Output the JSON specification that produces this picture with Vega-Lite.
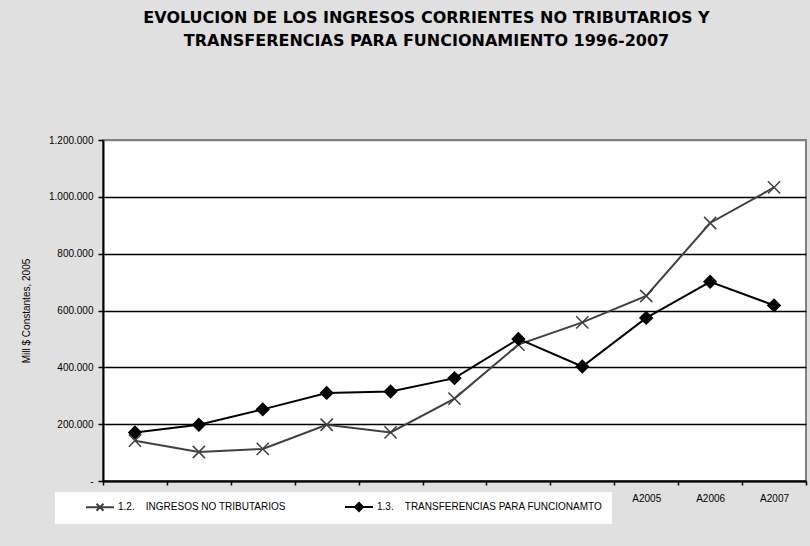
{
  "$schema": "https://vega.github.io/schema/vega-lite/v6.json",
  "width": 703,
  "height": 341,
  "autosize": {"type": "none"},
  "padding": {"left": 103, "top": 140, "right": 4, "bottom": 65},
  "background": "#e0e0e0",
  "title": {
    "text": ["EVOLUCION DE LOS INGRESOS CORRIENTES NO TRIBUTARIOS Y", "TRANSFERENCIAS PARA FUNCIONAMIENTO 1996-2007"],
    "fontSize": 16,
    "fontWeight": "bold",
    "font": "DejaVu Sans",
    "color": "black",
    "lineHeight": 23,
    "anchor": "middle",
    "dx": -28,
    "offset": 86
  },
  "data": {
    "values": [
      {"year": "A1997", "series": "1.2.\u00a0\u00a0\u00a0\u00a0INGRESOS NO TRIBUTARIOS", "value": 142000},
      {"year": "A1998", "series": "1.2.\u00a0\u00a0\u00a0\u00a0INGRESOS NO TRIBUTARIOS", "value": 102000},
      {"year": "A1999", "series": "1.2.\u00a0\u00a0\u00a0\u00a0INGRESOS NO TRIBUTARIOS", "value": 113000},
      {"year": "A2000", "series": "1.2.\u00a0\u00a0\u00a0\u00a0INGRESOS NO TRIBUTARIOS", "value": 198000},
      {"year": "A2001", "series": "1.2.\u00a0\u00a0\u00a0\u00a0INGRESOS NO TRIBUTARIOS", "value": 171000},
      {"year": "A2002", "series": "1.2.\u00a0\u00a0\u00a0\u00a0INGRESOS NO TRIBUTARIOS", "value": 290000},
      {"year": "A2003", "series": "1.2.\u00a0\u00a0\u00a0\u00a0INGRESOS NO TRIBUTARIOS", "value": 480000},
      {"year": "A2004", "series": "1.2.\u00a0\u00a0\u00a0\u00a0INGRESOS NO TRIBUTARIOS", "value": 558000},
      {"year": "A2005", "series": "1.2.\u00a0\u00a0\u00a0\u00a0INGRESOS NO TRIBUTARIOS", "value": 651000},
      {"year": "A2006", "series": "1.2.\u00a0\u00a0\u00a0\u00a0INGRESOS NO TRIBUTARIOS", "value": 908000},
      {"year": "A2007", "series": "1.2.\u00a0\u00a0\u00a0\u00a0INGRESOS NO TRIBUTARIOS", "value": 1033000},
      {"year": "A1997", "series": "1.3.\u00a0\u00a0\u00a0\u00a0TRANSFERENCIAS PARA FUNCIONAMTO", "value": 171000},
      {"year": "A1998", "series": "1.3.\u00a0\u00a0\u00a0\u00a0TRANSFERENCIAS PARA FUNCIONAMTO", "value": 198000},
      {"year": "A1999", "series": "1.3.\u00a0\u00a0\u00a0\u00a0TRANSFERENCIAS PARA FUNCIONAMTO", "value": 252000},
      {"year": "A2000", "series": "1.3.\u00a0\u00a0\u00a0\u00a0TRANSFERENCIAS PARA FUNCIONAMTO", "value": 310000},
      {"year": "A2001", "series": "1.3.\u00a0\u00a0\u00a0\u00a0TRANSFERENCIAS PARA FUNCIONAMTO", "value": 315000},
      {"year": "A2002", "series": "1.3.\u00a0\u00a0\u00a0\u00a0TRANSFERENCIAS PARA FUNCIONAMTO", "value": 362000},
      {"year": "A2003", "series": "1.3.\u00a0\u00a0\u00a0\u00a0TRANSFERENCIAS PARA FUNCIONAMTO", "value": 500000},
      {"year": "A2004", "series": "1.3.\u00a0\u00a0\u00a0\u00a0TRANSFERENCIAS PARA FUNCIONAMTO", "value": 403000},
      {"year": "A2005", "series": "1.3.\u00a0\u00a0\u00a0\u00a0TRANSFERENCIAS PARA FUNCIONAMTO", "value": 574000},
      {"year": "A2006", "series": "1.3.\u00a0\u00a0\u00a0\u00a0TRANSFERENCIAS PARA FUNCIONAMTO", "value": 701000},
      {"year": "A2007", "series": "1.3.\u00a0\u00a0\u00a0\u00a0TRANSFERENCIAS PARA FUNCIONAMTO", "value": 618000}
    ]
  },
  "encoding": {
    "x": {
      "field": "year",
      "type": "ordinal",
      "scale": {"type": "band", "paddingInner": 0, "paddingOuter": 0},
      "axis": {
        "title": null,
        "labelAngle": 0,
        "labelFontSize": 10,
        "labelColor": "black",
        "labelPadding": 8,
        "labelExpr": "indexof(['A2005','A2006','A2007'], datum.value) >= 0 ? datum.label : ''",
        "tickBand": "extent",
        "tickColor": "black",
        "tickSize": 4,
        "tickWidth": 1.5,
        "domainColor": "black",
        "domainWidth": 2,
        "grid": false
      }
    },
    "y": {
      "field": "value",
      "type": "quantitative",
      "scale": {"domain": [0, 1200000], "nice": false},
      "axis": {
        "title": "Mill $ Constantes, 2005",
        "titleFontSize": 10,
        "titleFontWeight": "normal",
        "titleColor": "black",
        "titlePadding": 17,
        "values": [0, 200000, 400000, 600000, 800000, 1000000, 1200000],
        "labelExpr": "datum.value == 0 ? '-' : replace(format(datum.value, ','), regexp(',', 'g'), '.')",
        "labelFontSize": 10,
        "labelColor": "black",
        "labelPadding": 5,
        "tickColor": "black",
        "tickSize": 5,
        "tickWidth": 1.5,
        "domainColor": "black",
        "domainWidth": 2,
        "grid": true,
        "gridColor": {"condition": {"test": "datum.value >= 1200000", "value": "#808080"}, "value": "black"},
        "gridWidth": 1.5
      }
    },
    "color": {
      "field": "series",
      "type": "nominal",
      "scale": {"range": ["#404040", "#000000"]},
      "legend": {
        "title": null,
        "orient": "none",
        "legendX": -48,
        "legendY": 352,
        "direction": "horizontal",
        "fillColor": "white",
        "padding": 9,
        "labelFontSize": 10,
        "labelColor": "black",
        "labelLimit": 400,
        "symbolSize": 100,
        "symbolOffset": 30,
        "labelOffset": 12,
        "columnPadding": 37,
        "symbolStrokeWidth": 2,
        "encode": {
          "symbols": {
            "update": {
              "shape": {"signal": "indexof(datum.value, 'INGRESOS') >= 0 ? 'M-2.8,0L2.8,0M-0.7,-0.7L0.7,0.7M-0.7,0.7L0.7,-0.7' : 'M-2.8,0L2.8,0M0,-0.8L0.8,0L0,0.8L-0.8,0Z'"},
              "fill": {"signal": "indexof(datum.value, 'INGRESOS') >= 0 ? 'transparent' : 'black'"},
              "stroke": {"signal": "indexof(datum.value, 'INGRESOS') >= 0 ? '#404040' : 'black'"},
              "strokeWidth": {"value": 2},
              "opacity": {"value": 1}
            }
          }
        }
      }
    }
  },
  "layer": [
    {
      "mark": {"type": "line", "strokeWidth": 2}
    },
    {
      "mark": {"type": "point", "filled": true, "opacity": 1, "size": 150, "strokeWidth": 1.5},
      "encoding": {
        "shape": {
          "field": "series",
          "type": "nominal",
          "scale": {"range": ["M-1,-1L1,1M-1,1L1,-1", "diamond"]},
          "legend": null
        },
        "stroke": {
          "field": "series",
          "type": "nominal",
          "scale": {"range": ["#404040", "#000000"]},
          "legend": null
        }
      }
    }
  ],
  "config": {
    "font": "Liberation Sans",
    "view": {"stroke": "#808080", "strokeWidth": 2, "fill": "white"}
  }
}
